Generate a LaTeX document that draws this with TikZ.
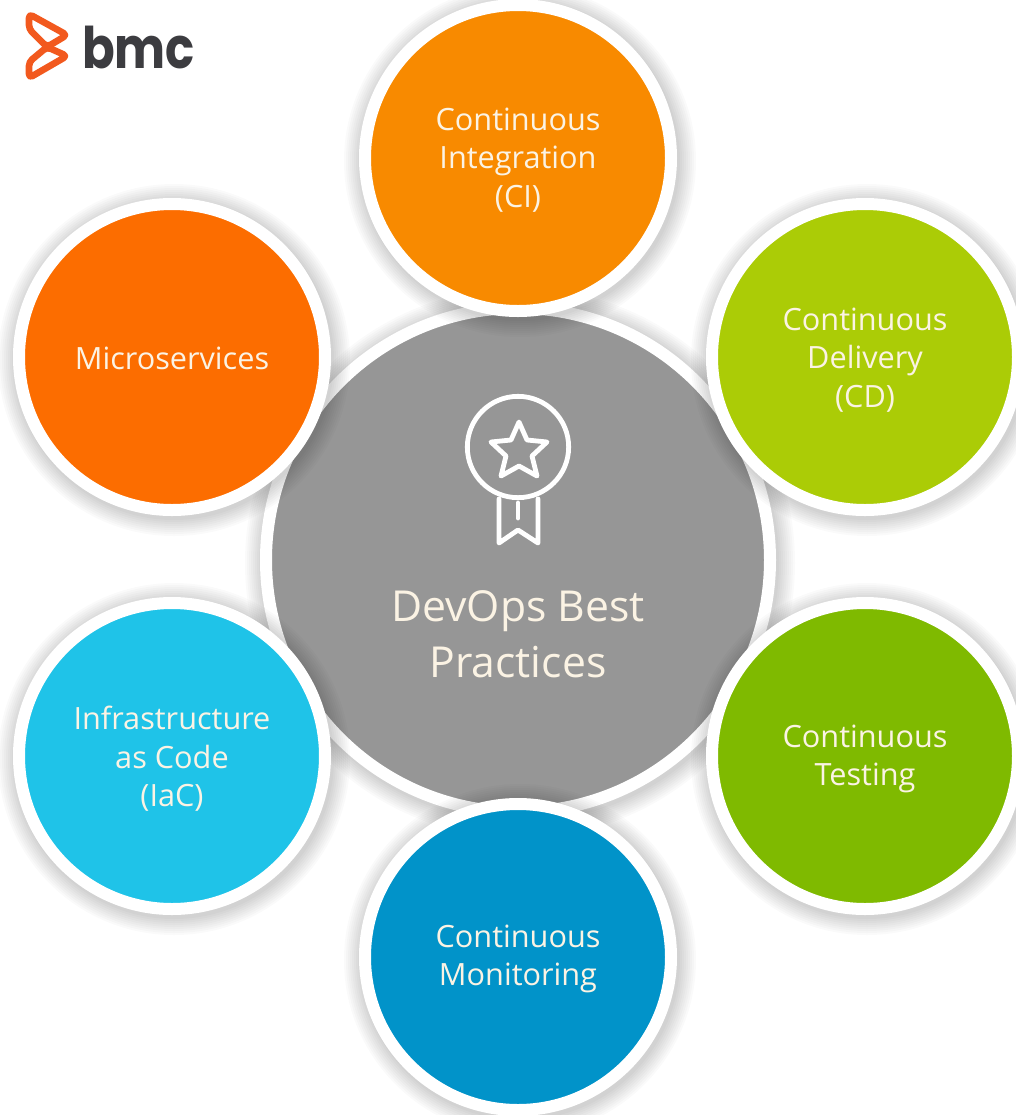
\documentclass[tikz,border=0pt]{standalone}
\usepackage{fontspec}
\setmainfont{Open Sans}
\newfontfamily\logofont{Poppins}
\definecolor{cOrange}{HTML}{F88A00}
\definecolor{cDeep}{HTML}{FC6D00}
\definecolor{cLime}{HTML}{ABCC06}
\definecolor{cGreen}{HTML}{7FBA00}
\definecolor{cBlue}{HTML}{0193C9}
\definecolor{cCyan}{HTML}{1FC3E8}
\definecolor{cGrey}{HTML}{969696}
\definecolor{cText}{HTML}{FBF3E4}
\definecolor{cLogo}{HTML}{F2591E}
\definecolor{cInk}{HTML}{3C3C40}
\tikzset{
  x=0.75pt,y=-0.75pt,
  disc/.style={circle,draw=white,line width=9pt,minimum size=229.5pt,inner sep=0pt,fill=#1},
  disctext/.style={text=cText,align=center,inner sep=0pt,font=\fontsize{23}{29}\selectfont},
  hub/.style={circle,draw=white,line width=9pt,minimum size=378pt,inner sep=0pt,fill=cGrey},
  hubtext/.style={text=cText,align=center,font=\fontsize{32}{42}\selectfont,inner sep=0pt},
  medal/.style={draw=white,line width=3.6pt,line join=round,line cap=round},
  logomark/.style={draw=cLogo,line width=5pt,line join=round,rounded corners=3pt},
  softshadow/.style={fill=black,opacity=0.018,draw=none}
}
\newcommand{\shadowdisc}[3]{%
  \foreach \d in {1,3,...,17}{\fill[softshadow] (#1+2,#2+3) circle ({#3+\d});}}
\begin{document}
\begin{tikzpicture}
\useasboundingbox (0,0) rectangle (1016,1115);
\clip (0,0) rectangle (1016,1115);
\fill[white] (0,0) rectangle (1016,1115);
% hub
\shadowdisc{518}{560}{258}
\node[hub] (hub) at (518,560) {};
% satellites
\shadowdisc{172}{357}{159}
\node[disc=cDeep] (micro) at (172,357) {};
\node[disctext] (microlabel) at (172,358) {Microservices};
\shadowdisc{518}{158}{159}
\node[disc=cOrange] (ci) at (518,158) {};
\node[disctext] (cilabel) at (518,160) {Continuous\\Integration\\(CI)};
\shadowdisc{865}{357}{159}
\node[disc=cLime] (cd) at (865,357) {};
\node[disctext] (cdlabel) at (865,360) {Continuous\\Delivery\\(CD)};
\shadowdisc{865}{756}{159}
\node[disc=cGreen] (ct) at (865,756) {};
\node[disctext] (ctlabel) at (865,759) {Continuous\\Testing};
\shadowdisc{172}{756}{159}
\node[disc=cCyan] (iac) at (172,756) {};
\node[disctext] (iaclabel) at (172,759) {Infrastructure\\as Code\\(IaC)};
\shadowdisc{518}{957}{159}
\node[disc=cBlue] (cm) at (518,957) {};
\node[disctext] (cmlabel) at (518,959) {Continuous\\Monitoring};
% hub label
\node[hubtext] (hublabel) at (518,634) {DevOps Best\\Practices};
% medal icon
\node[circle,draw=white,line width=3.6pt,minimum size=76pt,inner sep=0pt] (badge) at (518,447) {};
\draw[medal] (519,422) -- (527,440) -- (547,442) -- (532,456) -- (537,476) -- (519,466)
  -- (501,476) -- (506,456) -- (491,442) -- (511,440) -- cycle;
\draw[medal] (499,499) -- (499,543) -- (518,530) -- (538,543) -- (538,499);
\draw[medal] (518,503) -- (518,518);
% logo
\draw[logomark] (29,14) -- (67,35) -- (47,47) -- (29,29) -- cycle;
\draw[logomark] (29,78) -- (67,56) -- (47,47) -- (29,62) -- cycle;
\node[anchor=base west,inner sep=0pt,text=cInk,xscale=0.84,font=\logofont\bfseries\fontsize{43}{50}\selectfont] (brand) at (82,68) {bmc};
\end{tikzpicture}
\end{document}
